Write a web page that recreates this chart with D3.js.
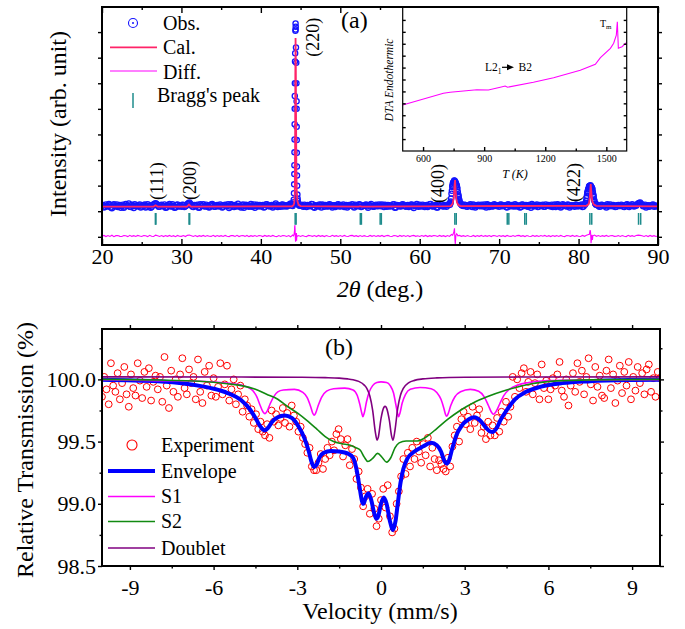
<!DOCTYPE html>
<html><head><meta charset="utf-8">
<script src="https://cdn.jsdelivr.net/npm/d3@7"></script>
<style>
body{margin:0;background:#fff}
svg{display:block}
text{font-family:"Liberation Serif","Times New Roman",Times,serif;fill:#000}
</style>
</head><body>
<svg id="c" width="685" height="629"></svg>
<script>
// ---------------- Panel (a): XRD data ----------------
const xrdStart = 20, xrdStep = 0.25;     // main 2theta grid
const xrdStart2 = 20.125;                // interleaved grid (same step)
const obsGrid = [
1210,1150,1260,1180,1230,1120,1270,1190,1160,1240,1200,1140,1280,1210,1170,1250,1130,1220,1190,1260,
1180,1230,1150,1270,1200,1160,1240,1310,1220,1170,1250,1190,1140,1230,1280,1180,1210,1150,1260,1200,
1170,1240,1190,1280,1340,1230,1160,1210,1250,1140,1220,1270,1180,1200,1150,1260,1230,1170,1240,1190,
1220,1160,1250,1200,1130,1270,1190,1240,1180,1210,1150,1260,1200,1230,1170,1280,1190,1140,1250,1210,
1180,1240,1160,1270,1200,1220,1150,1250,1190,1230,1170,1260,1210,1180,1240,1300,1280,4400,5000,1260,
1220,1190,1250,1160,1230,1200,1270,1140,1210,1180,1240,1260,1170,1220,1190,1250,1150,1230,1200,1270,
1180,1210,1160,1240,1200,1230,1270,1150,1220,1190,1250,1180,1210,1260,1140,1230,1200,1170,1250,1190,
1220,1260,1160,1210,1240,1180,1200,1270,1150,1230,1190,1250,1210,1170,1240,1200,1260,1130,1220,1190,
1250,1180,1210,1230,1160,1270,1200,1190,1240,1150,1220,1260,1180,1210,1250,1290,1680,2100,2130,1880,
1420,1260,1200,1240,1170,1230,1190,1260,1150,1220,1200,1250,1180,1210,1270,1160,1230,1190,1240,1200,
1170,1260,1210,1230,1150,1240,1190,1200,1270,1180,1220,1160,1250,1210,1190,1240,1140,1230,1200,1260,
1180,1220,1250,1170,1210,1240,1190,1160,1260,1200,1230,1150,1270,1210,1180,1240,1200,1220,1170,1250,
1190,1230,1160,1270,1520,1880,2010,1860,1400,1260,1210,1180,1240,1200,1150,1230,1260,1190,1210,1170,
1240,1200,1220,1160,1250,1190,1230,1270,1180,1210,1300,1340,1260,1200,1150,1230,1190,1240,1170,1220,
1200];
const obsGrid2 = [
1240,1170,1200,1280,1150,1230,1190,1260,1210,1140,1250,1180,1220,1300,1160,1200,1270,1190,1230,1150,
1220,1260,1180,1210,1140,1250,1290,1280,1170,1230,1200,1260,1150,1220,1190,1270,1140,1240,1180,1210,
1250,1160,1220,1310,1290,1180,1240,1200,1150,1270,1210,1190,1250,1160,1230,1280,1170,1210,1190,1260,
1150,1230,1200,1270,1180,1240,1160,1210,1290,1190,1230,1140,1250,1200,1220,1170,1260,1210,1180,1240,
1200,1150,1260,1220,1180,1240,1190,1300,1160,1210,1250,1180,1230,1200,1270,1220,1350,8100,1500,1210,
1250,1170,1210,1240,1190,1280,1160,1230,1200,1260,1150,1220,1240,1180,1270,1200,1230,1160,1250,1190,
1230,1260,1190,1150,1240,1210,1180,1250,1200,1270,1160,1220,1240,1190,1230,1280,1170,1210,1200,1260,
1190,1220,1250,1170,1230,1200,1260,1140,1240,1210,1180,1270,1200,1230,1160,1250,1190,1220,1280,1170,
1210,1250,1160,1240,1200,1280,1180,1220,1150,1260,1210,1190,1240,1170,1230,1340,2000,2190,2010,1600,
1310,1220,1250,1180,1210,1270,1160,1230,1200,1250,1190,1220,1260,1150,1240,1210,1180,1270,1200,1230,
1250,1190,1220,1160,1270,1200,1240,1180,1230,1210,1150,1260,1200,1240,1170,1220,1280,1190,1230,1160,
1240,1200,1170,1260,1220,1190,1250,1230,1160,1270,1210,1180,1240,1200,1260,1150,1230,1210,1250,1190,
1220,1260,1180,1300,1740,1990,1940,1600,1290,1230,1170,1250,1200,1220,1270,1190,1210,1240,1160,1230,
1200,1250,1180,1230,1270,1160,1220,1200,1240,1260,1320,1280,1190,1250,1210,1170,1230,1260,1200,1180];
const obsPeakX = [
44.00,44.08,44.14,44.17,44.19,44.21,44.22,44.23,44.24,44.26,44.27,44.28,44.30,44.32,44.35,44.37,44.39,44.42,44.46,44.48,44.50,44.51,44.52,44.53,44.54,44.55,44.57,44.60,44.65,44.72,44.80,
63.80,63.85,63.90,63.95,64.05,64.10,64.15,64.20,64.30,64.35,64.40,64.45,64.55,64.60,64.65,64.70,64.80,64.85,64.90,64.95,65.10,65.20,65.30,
80.80,80.90,80.95,81.05,81.10,81.15,81.20,81.30,81.35,81.40,81.45,81.55,81.60,81.65,81.70,81.80,81.85,81.90,81.95,82.10,82.20];
const obsPeakY = [
1200,1280,1450,1700,2050,2450,2800,3300,3800,5000,5500,6000,6850,7170,8050,8340,8210,7400,6800,6000,5300,4300,3780,3280,2750,2400,2000,1650,1400,1280,1230,
1250,1300,1380,1500,1800,1950,2050,2120,2150,2200,2180,2120,2100,2000,2020,1950,1750,1650,1550,1470,1320,1270,1230,
1250,1320,1400,1600,1700,1780,1850,1950,1980,2000,1990,1980,1950,1920,1900,1750,1650,1550,1450,1300,1250];
const calX = [20,26.5,26.75,27.0,30.7,30.95,31.2,43.9,44.1,44.2,44.27,44.31,44.34,44.37,44.40,44.43,44.47,44.52,44.6,44.75,45.0,52.3,52.5,52.7,63.9,64.15,64.3,64.38,64.45,64.52,64.6,64.7,64.85,65.1,81.0,81.3,81.42,81.53,81.62,81.72,81.9,82.2,90];
const calY = [1180,1180,1230,1180,1180,1260,1180,1190,1230,1320,1700,3500,6300,7770,6800,4800,2700,1800,1400,1250,1200,1180,1200,1180,1200,1300,1550,2000,2216,1850,1500,1330,1250,1200,1210,1290,1550,2060,1700,1400,1270,1210,1190];
const diffGrid = [
30,55,10,48,15,60,5,45,52,18,10,50,43,8,56,17,46,12,54,30,
15,50,42,8,58,20,12,65,45,16,51,9,47,19,55,14,44,6,53,21,
17,48,11,56,70,43,14,51,8,45,19,54,12,47,21,16,57,10,49,18,
44,13,55,20,9,52,46,15,58,11,43,49,17,54,8,45,19,51,14,47,
41,10,53,18,46,12,55,20,7,49,16,51,43,14,48,0,70,380,-150,50,
15,52,20,9,56,43,17,48,11,54,19,45,8,50,21,14,57,18,46,12,
49,16,53,20,10,47,55,18,43,9,51,15,46,21,12,54,19,48,14,44,
17,52,10,45,56,20,13,49,42,8,53,18,47,15,50,11,44,55,19,43,
14,48,20,54,9,46,17,51,42,13,55,19,45,10,48,16,90,150,-200,80,
55,18,46,12,50,21,15,53,9,47,20,56,14,44,18,51,11,48,43,16,
52,19,45,10,54,21,16,49,13,47,55,18,43,9,50,20,14,53,17,46,
12,49,21,55,16,44,10,51,19,47,14,54,20,8,48,43,17,52,15,45,
20,11,53,18,60,90,200,-120,70,20,49,14,46,19,55,12,44,50,17,21,
47,14,52,20,9,56,18,45,13,50,65,55,43,16,48,11,54,19,46,15,
32];
const diffPeakX = [44.10,44.18,44.24,44.28,44.31,44.34,44.37,44.40,44.44,44.48,44.53,44.60,44.70, 64.15,64.30,64.38,64.43,64.48,64.55,64.65,64.80, 81.35,81.45,81.52,81.57,81.62,81.68,81.80];
const diffPeakY = [40,90,250,460,300,-50,-190,-120,80,150,60,20,35, 60,200,330,-100,-280,50,120,40, 90,265,120,-250,-100,80,40];
const braggPos = [26.72,26.79,30.96,31.04,44.32,44.44,52.52,52.66,55.02,55.17,64.42,64.60,71.02,71.22,73.22,73.42,81.42,81.66,87.55,87.82];
const braggTop = 930, braggBottom = 470;
const peakLabels = ["(111)","(200)","(220)","(400)","(422)"];
const peakLabelAt = [26.92,31.08,46.56,62.3,79.42];
const peakLabelBase = [1440,1440,7040,1320,1360];
const xTicksA = [20,30,40,50,60,70,80,90];
const xMinorA = [25,35,45,55,65,75,85];
const yTicksA = [0,1000,2000,3000,4000,5000,6000,7000,8000];

// ---------------- Inset: DTA ----------------
const dtaT = [500,585,700,733,864,921,979,1003,1015,1142,1241,1372,1446,1471,1520,1536,1549,1554,1559,1577,1600];
const dtaV = [3.86,4.28,4.84,4.93,5.14,5.12,5.35,5.45,5.35,5.77,6.15,6.77,7.28,7.83,8.62,9.04,9.73,10.85,8.62,8.75,9.12];
const dtaTicks = [600,900,1200,1500];
const dtaMinor = [750,1050,1350];
const dtaYTicks = [1,2,3,4,5,6,7,8,9,10,11];

// ---------------- Panel (b): Mossbauer ----------------
const mossStart = -10, mossStep = 0.08;
const mossT = [
99.86,100.02,99.92,99.80,100.13,99.95,99.90,100.05,99.84,99.97,100.10,99.88,99.78,100.04,99.93,99.87,100.13,99.99,99.85,100.06,99.94,100.09,99.83,99.98,100.03,
99.92,100.02,99.82,100.18,99.95,99.77,100.07,99.90,100.00,99.86,100.04,100.17,99.93,99.88,100.08,99.97,100.02,99.84,100.16,99.90,99.81,100.06,99.95,100.11,99.87,
100.01,99.86,99.94,100.13,99.88,99.96,100.11,99.83,99.92,100.00,99.80,99.88,99.95,99.74,99.84,99.79,99.70,99.76,99.65,99.72,99.60,99.66,99.58,99.55,99.64,
99.53,99.75,99.66,99.72,99.63,99.69,99.77,99.65,99.73,99.62,99.79,99.71,99.66,99.58,99.62,99.53,99.48,99.41,99.45,99.30,99.27,99.27,99.33,99.40,99.28,
99.36,99.45,99.39,99.50,99.43,99.56,99.60,99.52,99.38,99.47,99.52,99.31,99.44,99.36,99.20,99.26,99.13,98.98,99.06,99.12,98.92,99.08,98.96,98.82,98.88,
99.03,99.12,98.97,99.15,98.90,98.77,98.80,99.00,99.10,99.22,99.36,99.24,99.41,99.30,99.45,99.36,99.50,99.42,99.33,99.48,99.39,99.53,99.30,99.45,99.36,
99.27,99.35,99.32,99.28,99.26,99.37,99.30,99.46,99.55,99.62,99.50,99.68,99.74,99.64,99.70,99.60,99.78,99.65,99.71,99.76,99.57,99.62,99.52,99.66,99.55,
99.63,99.55,99.69,99.58,99.74,99.66,99.82,99.70,99.78,100.02,99.86,100.00,99.93,100.05,100.09,99.90,99.98,100.06,99.88,99.97,100.04,99.84,100.12,99.93,99.99,
99.84,99.92,100.01,99.95,100.04,100.14,99.91,99.86,100.00,99.79,99.95,100.05,99.90,100.13,99.98,100.07,99.88,100.02,100.17,99.96,99.83,100.10,99.94,100.03,99.87,
99.85,100.07,100.16,99.93,100.04,99.81,99.99,100.11,99.89,100.06,99.95,100.14,99.84,100.02,99.91,100.10,99.97,100.05,99.88,100.08,100.12,99.90,100.01,99.86,100.06,
100.01];
const envV = [-10,-8,-7,-6.5,-6,-5.5,-5,-4.7,-4.5,-4.35,-4.22,-4.16,-4.05,-3.9,-3.7,-3.45,-3.2,-2.95,-2.75,-2.6,-2.48,-2.4,-2.32,-2.2,-2.05,-1.8,-1.5,-1.2,-1.0,-0.88,-0.78,-0.68,-0.63,-0.55,-0.45,-0.35,-0.25,-0.17,-0.1,0,0.1,0.2,0.32,0.43,0.52,0.6,0.7,0.8,0.95,1.2,1.5,1.8,2.0,2.15,2.27,2.35,2.43,2.55,2.7,2.9,3.15,3.35,3.55,3.75,3.92,4.0,4.12,4.3,4.5,4.8,5.2,5.7,6.5,7.5,9,10];
const envT = [99.998,99.985,99.965,99.948,99.925,99.89,99.83,99.76,99.69,99.63,99.595,99.59,99.61,99.66,99.695,99.71,99.69,99.62,99.53,99.43,99.33,99.295,99.31,99.375,99.41,99.425,99.42,99.405,99.37,99.28,99.15,99.02,99.0,99.05,99.085,99.03,98.93,98.88,98.9,99.0,99.05,99.0,98.86,98.79,98.86,99.0,99.17,99.28,99.365,99.42,99.46,99.49,99.47,99.42,99.345,99.323,99.345,99.44,99.55,99.63,99.68,99.695,99.67,99.615,99.58,99.577,99.6,99.68,99.75,99.84,99.9,99.94,99.97,99.985,99.995,99.998];
const s1V = [-10,-8,-6.5,-5.5,-5.0,-4.8,-4.6,-4.45,-4.33,-4.22,-4.16,-4.08,-3.98,-3.85,-3.7,-3.5,-3.1,-2.8,-2.65,-2.52,-2.45,-2.40,-2.34,-2.25,-2.12,-1.95,-1.7,-1.3,-1.0,-0.85,-0.76,-0.69,-0.65,-0.6,-0.52,-0.42,-0.3,-0.15,0,0.2,0.33,0.45,0.53,0.59,0.63,0.68,0.76,0.88,1.05,1.4,1.8,2.0,2.15,2.25,2.31,2.35,2.40,2.5,2.65,2.85,3.2,3.5,3.7,3.85,3.95,4.03,4.12,4.25,4.4,4.6,4.9,5.3,6,7.5,10];
const s1T = [99.998,99.99,99.985,99.97,99.955,99.94,99.91,99.86,99.79,99.735,99.725,99.745,99.8,99.86,99.9,99.915,99.92,99.895,99.855,99.78,99.73,99.712,99.73,99.79,99.86,99.905,99.925,99.93,99.915,99.87,99.8,99.73,99.70,99.73,99.82,99.9,99.95,99.975,99.98,99.975,99.95,99.89,99.8,99.73,99.70,99.73,99.81,99.88,99.92,99.935,99.925,99.895,99.84,99.77,99.72,99.704,99.72,99.79,99.86,99.9,99.92,99.905,99.86,99.79,99.74,99.72,99.74,99.8,99.87,99.92,99.955,99.975,99.99,99.995,99.998];
const s2V = [-10,-8,-6.5,-5.5,-5.0,-4.5,-4.1,-3.7,-3.4,-3.0,-2.66,-2.3,-2.0,-1.7,-1.4,-1.1,-0.9,-0.74,-0.6,-0.47,-0.3,-0.12,0.05,0.2,0.35,0.5,0.65,0.9,1.3,1.7,2.0,2.4,2.85,3.3,3.8,4.5,5.0,5.4,6.3,7.5,10];
const s2T = [100.0,99.995,99.985,99.965,99.95,99.92,99.88,99.84,99.79,99.73,99.67,99.6,99.54,99.5,99.483,99.47,99.45,99.43,99.375,99.34,99.365,99.405,99.37,99.335,99.37,99.45,99.49,99.505,99.505,99.55,99.605,99.68,99.752,99.81,99.86,99.915,99.945,99.965,99.988,99.996,100.0];
const dbV = [-10,-5,-3,-2,-1.5,-1.2,-1.0,-0.8,-0.6,-0.5,-0.4,-0.3,-0.2,-0.14,-0.1,0,0.1,0.15,0.2,0.3,0.38,0.43,0.5,0.6,0.7,0.8,1.0,1.2,1.5,2,3,5,10];
const dbT = [100.02,100.019,100.017,100.014,100.01,100.004,99.997,99.984,99.954,99.924,99.866,99.753,99.572,99.511,99.532,99.685,99.774,99.783,99.769,99.67,99.544,99.511,99.59,99.768,99.874,99.927,99.974,99.992,100.004,100.012,100.017,100.019,100.02];
const xTicksB = [-9,-6,-3,0,3,6,9];
const xMinorB = [-7.5,-4.5,-1.5,1.5,4.5,7.5];
const yTicksB = [98.5,99.0,99.5,100.0];
const yMinorB = [98.75,99.25,99.75,100.25];
const legendB = ["Experiment","Envelope","S1","S2","Doublet"];
const legendA = ["Obs.","Cal.","Diff.","Bragg's peak"];

// ---------------- drawing ----------------
const svg = d3.select("#c");
const FONT = '"Liberation Serif","Times New Roman",Times,serif';

function drawAxis(x0, y0, gen, vals, size, fmt, pad, fs) {
  const g = svg.append("g").attr("transform", `translate(${x0},${y0})`);
  g.call(gen.tickValues(vals).tickSize(size).tickPadding(pad).tickFormat(fmt));
  g.attr("font-family", FONT).attr("font-size", fs);
  g.select(".domain").remove();
  g.selectAll(".tick line").attr("stroke", "#000").attr("stroke-width", 1.4);
  g.selectAll(".tick text").attr("fill", "#000");
  return g;
}

// ===== Panel (a) =====
const xA = d3.scaleLinear().domain([20, 90]).range([102, 658]);
const yA = d3.scaleLinear().domain([-320, 8980]).range([245, 7]);

const obsPts = obsGrid.map((v, i) => [xrdStart + xrdStep * i, v])
  .concat(obsGrid2.map((v, i) => [xrdStart2 + xrdStep * i, v]))
  .concat(obsPeakX.map((x, i) => [x, obsPeakY[i]]));
const diffPts = diffGrid.map((v, i) => [xrdStart + xrdStep * i, v])
  .concat(diffPeakX.map((x, i) => [x, diffPeakY[i]]))
  .sort((a, b) => a[0] - b[0]);

const defs = svg.append("defs");
defs.append("clipPath").attr("id", "clipA")
  .append("rect").attr("x", 102).attr("y", 7).attr("width", 556).attr("height", 238);
defs.append("clipPath").attr("id", "clipB")
  .append("rect").attr("x", 102).attr("y", 329).attr("width", 558).attr("height", 237);

const gA = svg.append("g").attr("clip-path", "url(#clipA)");
gA.append("g").selectAll("circle").data(obsPts).join("circle")
  .attr("cx", d => xA(d[0])).attr("cy", d => yA(d[1])).attr("r", 2.6)
  .attr("fill", "none").attr("stroke", "#1414ff").attr("stroke-width", 1.3);
gA.append("path").datum(calX.map((x, i) => [x, calY[i]]))
  .attr("d", d3.line().x(d => xA(d[0])).y(d => yA(d[1])))
  .attr("fill", "none").attr("stroke", "#ff2468").attr("stroke-width", 1.8);
gA.append("g").selectAll("line").data(braggPos).join("line")
  .attr("x1", d => xA(d)).attr("x2", d => xA(d))
  .attr("y1", yA(braggTop)).attr("y2", yA(braggBottom))
  .attr("stroke", "#1e8c8c").attr("stroke-width", 1.5);
gA.append("path").datum(diffPts)
  .attr("d", d3.line().x(d => xA(d[0])).y(d => yA(d[1])))
  .attr("fill", "none").attr("stroke", "#ff00ff").attr("stroke-width", 1.1);

svg.append("g").selectAll("text").data(peakLabels).join("text")
  .attr("transform", (d, i) => `translate(${xA(peakLabelAt[i])},${yA(peakLabelBase[i])}) rotate(-90)`)
  .attr("dy", "0.35em").attr("font-size", 18).text(d => d);

drawAxis(0, 245, d3.axisBottom(xA), xTicksA, -6, d => d, 3, 22);
drawAxis(0, 245, d3.axisBottom(xA), xMinorA, -3, "", 3, 22);
drawAxis(0, 7, d3.axisTop(xA), xTicksA, -6, "", 3, 22);
drawAxis(0, 7, d3.axisTop(xA), xMinorA, -3, "", 3, 22);
drawAxis(102, 0, d3.axisLeft(yA), yTicksA, 4, "", 3, 22);
drawAxis(658, 0, d3.axisRight(yA), yTicksA, 4, "", 3, 22);
svg.append("rect").attr("x", 102).attr("y", 7).attr("width", 556).attr("height", 238)
  .attr("fill", "none").attr("stroke", "#000").attr("stroke-width", 2);

// inset
const xI = d3.scaleLinear().domain([500, 1600]).range([402.7, 626.7]);
const yI = d3.scaleLinear().domain([0, 12]).range([151, 8]);
svg.append("rect").attr("x", 402.7).attr("y", 8).attr("width", 224).attr("height", 143).attr("fill", "#fff");
svg.append("path").datum(dtaT.map((t, i) => [t, dtaV[i]]))
  .attr("d", d3.line().x(d => xI(d[0])).y(d => yI(d[1])))
  .attr("fill", "none").attr("stroke", "#ff00ff").attr("stroke-width", 1.1);
drawAxis(0, 151, d3.axisBottom(xI), dtaTicks, -4, d => d, 4, 10);
drawAxis(0, 151, d3.axisBottom(xI), dtaMinor, -2.5, "", 4, 10);
drawAxis(402.7, 0, d3.axisLeft(yI), dtaYTicks, -3, "", 3, 10);
drawAxis(626.7, 0, d3.axisRight(yI), dtaYTicks, -3, "", 3, 10);
svg.append("rect").attr("x", 402.7).attr("y", 7).attr("width", 224).attr("height", 144)
  .attr("fill", "none").attr("stroke", "#000").attr("stroke-width", 1.2);
svg.append("text").attr("x", 515).attr("y", 178).attr("text-anchor", "middle")
  .attr("font-size", 12).attr("font-style", "italic").text("T (K)");
svg.append("text").attr("transform", "translate(393,80) rotate(-90)").attr("text-anchor", "middle")
  .attr("font-size", 11.5).attr("font-style", "italic").text("DTA Endothermic");
const tm = svg.append("text").attr("x", 600).attr("y", 27).attr("font-size", 10).text("T");
tm.append("tspan").attr("font-size", 7).attr("dy", 2).text("m");
const lb = svg.append("text").attr("x", 485).attr("y", 71).attr("font-size", 11.5).text("L2");
lb.append("tspan").attr("font-size", 7.5).attr("dy", 3).text("1");
lb.append("tspan").attr("dy", -3).attr("dx", 17).text("B2");
svg.append("line").attr("x1", 502).attr("x2", 508).attr("y1", 67.3).attr("y2", 67.3)
  .attr("stroke", "#000").attr("stroke-width", 1.2);
svg.append("path").attr("d", "M507,64.3 L514,67.3 L507,70.3 Z").attr("fill", "#000");

// legend (a)
svg.append("circle").attr("cx", 133).attr("cy", 23).attr("r", 4.5)
  .attr("fill", "none").attr("stroke", "#1414ff").attr("stroke-width", 1.1);
svg.append("circle").attr("cx", 133).attr("cy", 23).attr("r", 1).attr("fill", "#1414ff");
svg.append("line").attr("x1", 110).attr("x2", 157).attr("y1", 47.3).attr("y2", 47.3)
  .attr("stroke", "#ff2468").attr("stroke-width", 1.8);
svg.append("line").attr("x1", 110).attr("x2", 157).attr("y1", 71).attr("y2", 71)
  .attr("stroke", "#ff00ff").attr("stroke-width", 1.2);
svg.append("line").attr("x1", 133).attr("x2", 133).attr("y1", 93).attr("y2", 108)
  .attr("stroke", "#1e8c8c").attr("stroke-width", 1.5);
svg.append("g").selectAll("text").data(legendA).join("text")
  .attr("x", (d, i) => i === 3 ? 157 : 163).attr("y", (d, i) => [30, 54, 79, 102][i])
  .attr("font-size", 20).text(d => d);

svg.append("text").attr("x", 341).attr("y", 28).attr("font-size", 24).text("(a)");
const xl = svg.append("text").attr("x", 380).attr("y", 297).attr("text-anchor", "middle").attr("font-size", 24);
xl.append("tspan").attr("font-style", "italic").text("2θ");
xl.append("tspan").text(" (deg.)");
svg.append("text").attr("transform", "translate(66,124) rotate(-90)").attr("text-anchor", "middle")
  .attr("font-size", 24).text("Intensity (arb. unit)");

// ===== Panel (b) =====
const xB = d3.scaleLinear().domain([-10, 10]).range([102, 660]);
const yB = d3.scaleLinear().domain([98.5, 100.405]).range([566, 329]);
const gB = svg.append("g").attr("clip-path", "url(#clipB)");
const mossPts = mossT.map((t, i) => [mossStart + mossStep * i, t]);
gB.append("g").selectAll("circle").data(mossPts).join("circle")
  .attr("cx", d => xB(d[0])).attr("cy", d => yB(d[1])).attr("r", 3.4)
  .attr("fill", "none").attr("stroke", "#ff0000").attr("stroke-width", 1);
const lineB = d3.line().x(d => xB(d[0])).y(d => yB(d[1])).curve(d3.curveMonotoneX);
const curves = [
  [envV, envT, "#0000ff", 4],
  [s1V, s1T, "#ff00ff", 1.6],
  [s2V, s2T, "#118a11", 1.6],
  [dbV, dbT, "#800080", 1.6]
];
curves.forEach(([vs, ts, col, w]) => {
  gB.append("path").datum(vs.map((v, i) => [v, ts[i]])).attr("d", lineB)
    .attr("fill", "none").attr("stroke", col).attr("stroke-width", w).attr("stroke-linejoin", "round");
});

drawAxis(0, 566, d3.axisBottom(xB), xTicksB, 4, d => d, 9, 22);
drawAxis(0, 566, d3.axisBottom(xB), xMinorB, 2.5, "", 9, 22);
drawAxis(0, 329, d3.axisTop(xB), xTicksB, 4, "", 3, 22);
drawAxis(0, 329, d3.axisTop(xB), xMinorB, 2.5, "", 3, 22);
drawAxis(102, 0, d3.axisLeft(yB), yTicksB, 4, d3.format(".1f"), 2, 22);
drawAxis(102, 0, d3.axisLeft(yB), yMinorB, 2.5, "", 2, 22);
drawAxis(660, 0, d3.axisRight(yB), yTicksB, 4, "", 3, 22);
drawAxis(660, 0, d3.axisRight(yB), yMinorB, 2.5, "", 3, 22);
svg.append("rect").attr("x", 102).attr("y", 329).attr("width", 558).attr("height", 237)
  .attr("fill", "none").attr("stroke", "#000").attr("stroke-width", 2);

// legend (b)
svg.append("circle").attr("cx", 132).attr("cy", 445).attr("r", 5)
  .attr("fill", "none").attr("stroke", "#ff0000").attr("stroke-width", 1.1);
[["#0000ff", 4, 471], ["#ff00ff", 1.6, 496.5], ["#118a11", 1.6, 521.5], ["#800080", 1.6, 548]].forEach(([c, w, y]) => {
  svg.append("line").attr("x1", 108).attr("x2", 155).attr("y1", y).attr("y2", y)
    .attr("stroke", c).attr("stroke-width", w);
});
svg.append("g").selectAll("text").data(legendB).join("text")
  .attr("x", 161).attr("y", (d, i) => [452, 478, 503, 528, 555][i])
  .attr("font-size", 20).text(d => d);

svg.append("text").attr("x", 325).attr("y", 355).attr("font-size", 24).text("(b)");
svg.append("text").attr("x", 380).attr("y", 619).attr("text-anchor", "middle")
  .attr("font-size", 24).text("Velocity (mm/s)");
svg.append("text").attr("transform", "translate(33,450) rotate(-90)").attr("text-anchor", "middle")
  .attr("font-size", 24).text("Relative Transmission (%)");

svg.selectAll("text").style("font-family", FONT);
</script>
</body></html>
